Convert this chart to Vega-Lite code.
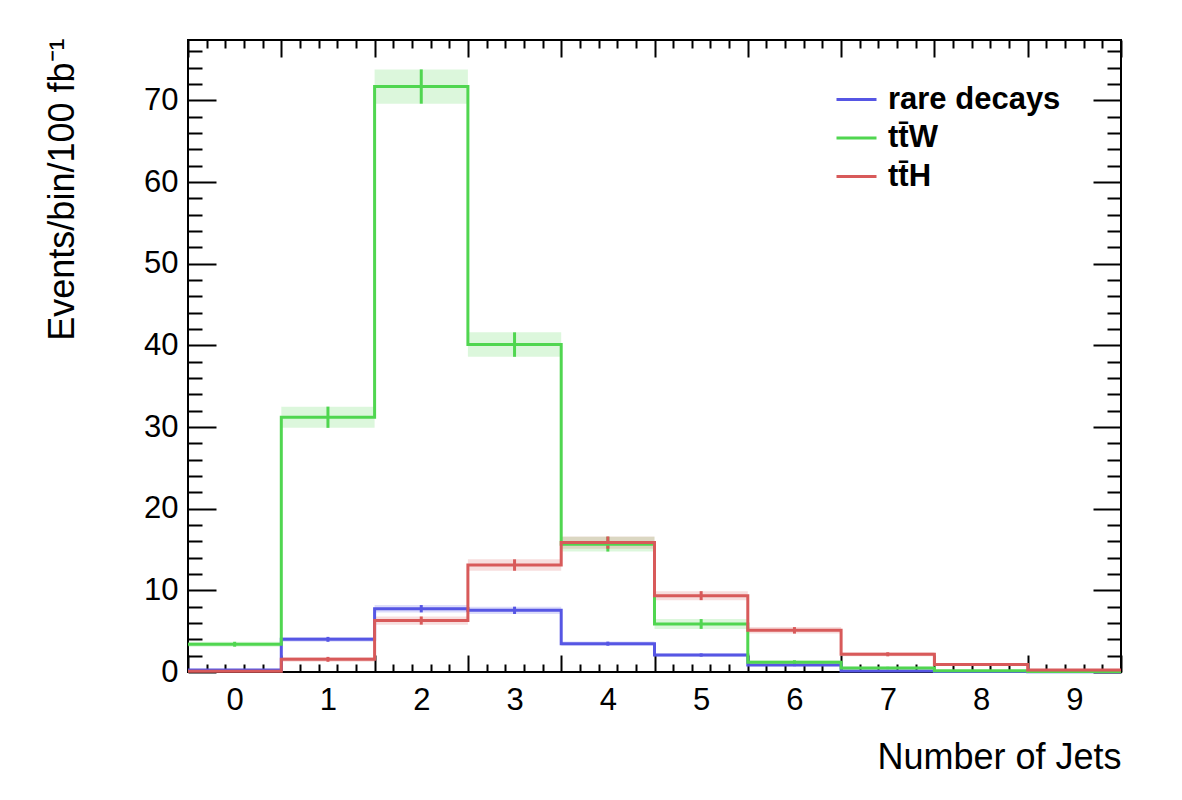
{
  "$schema": "https://vega.github.io/schema/vega-lite/v6.json",
  "width": 933,
  "height": 632,
  "autosize": {"type": "none"},
  "padding": {"left": 188, "top": 40, "right": 61, "bottom": 128},
  "background": "white",
  "config": {
    "font": "Liberation Sans",
    "view": {"stroke": "#000000", "strokeWidth": 2},
    "axis": {"grid": false, "domain": false, "tickColor": "#000000", "tickWidth": 2, "labelColor": "#000000", "titleColor": "#000000", "labelFont": "Liberation Sans", "titleFont": "Liberation Sans", "labelFontSize": 31, "titleFontSize": 36, "titleFontWeight": "normal"},
    "legend": {"labelFont": "Liberation Sans", "labelFontSize": 31, "labelFontWeight": "bold", "labelColor": "#000000", "labelLimit": 400}
  },
  "datasets": {
    "bins": [
      {"proc": "rare decays", "x0": -0.5, "x1": 0.5, "c": 0, "v": 0.25, "vlo": 0.15, "vhi": 0.35},
      {"proc": "rare decays", "x0": 0.5, "x1": 1.5, "c": 1, "v": 4.0, "vlo": 3.7, "vhi": 4.3},
      {"proc": "rare decays", "x0": 1.5, "x1": 2.5, "c": 2, "v": 7.76, "vlo": 7.3, "vhi": 8.2},
      {"proc": "rare decays", "x0": 2.5, "x1": 3.5, "c": 3, "v": 7.55, "vlo": 7.1, "vhi": 8.0},
      {"proc": "rare decays", "x0": 3.5, "x1": 4.5, "c": 4, "v": 3.47, "vlo": 3.22, "vhi": 3.72},
      {"proc": "rare decays", "x0": 4.5, "x1": 5.5, "c": 5, "v": 2.08, "vlo": 1.88, "vhi": 2.28},
      {"proc": "rare decays", "x0": 5.5, "x1": 6.5, "c": 6, "v": 0.86, "vlo": 0.71, "vhi": 1.01},
      {"proc": "rare decays", "x0": 6.5, "x1": 7.5, "c": 7, "v": 0.12, "vlo": 0.07, "vhi": 0.17},
      {"proc": "rare decays", "x0": 7.5, "x1": 8.5, "c": 8, "v": 0.05, "vlo": 0.02, "vhi": 0.08},
      {"proc": "rare decays", "x0": 8.5, "x1": 9.5, "c": 9, "v": 0.02, "vlo": 0.0, "vhi": 0.04},
      {"proc": "tt̄W", "x0": -0.5, "x1": 0.5, "c": 0, "v": 3.4, "vlo": 3.1, "vhi": 3.7},
      {"proc": "tt̄W", "x0": 0.5, "x1": 1.5, "c": 1, "v": 31.2, "vlo": 29.9, "vhi": 32.5},
      {"proc": "tt̄W", "x0": 1.5, "x1": 2.5, "c": 2, "v": 71.7, "vlo": 69.6, "vhi": 73.8},
      {"proc": "tt̄W", "x0": 2.5, "x1": 3.5, "c": 3, "v": 40.1, "vlo": 38.6, "vhi": 41.6},
      {"proc": "tt̄W", "x0": 3.5, "x1": 4.5, "c": 4, "v": 15.65, "vlo": 14.75, "vhi": 16.55},
      {"proc": "tt̄W", "x0": 4.5, "x1": 5.5, "c": 5, "v": 5.88, "vlo": 5.28, "vhi": 6.48},
      {"proc": "tt̄W", "x0": 5.5, "x1": 6.5, "c": 6, "v": 1.19, "vlo": 0.94, "vhi": 1.44},
      {"proc": "tt̄W", "x0": 6.5, "x1": 7.5, "c": 7, "v": 0.49, "vlo": 0.34, "vhi": 0.64},
      {"proc": "tt̄W", "x0": 7.5, "x1": 8.5, "c": 8, "v": 0.16, "vlo": 0.08, "vhi": 0.24},
      {"proc": "tt̄W", "x0": 8.5, "x1": 9.5, "c": 9, "v": 0.05, "vlo": 0.02, "vhi": 0.08},
      {"proc": "tt̄H", "x0": -0.5, "x1": 0.5, "c": 0, "v": 0.1, "vlo": 0.05, "vhi": 0.15},
      {"proc": "tt̄H", "x0": 0.5, "x1": 1.5, "c": 1, "v": 1.55, "vlo": 1.25, "vhi": 1.85},
      {"proc": "tt̄H", "x0": 1.5, "x1": 2.5, "c": 2, "v": 6.3, "vlo": 5.8, "vhi": 6.8},
      {"proc": "tt̄H", "x0": 2.5, "x1": 3.5, "c": 3, "v": 13.1, "vlo": 12.4, "vhi": 13.8},
      {"proc": "tt̄H", "x0": 3.5, "x1": 4.5, "c": 4, "v": 15.85, "vlo": 15.1, "vhi": 16.6},
      {"proc": "tt̄H", "x0": 4.5, "x1": 5.5, "c": 5, "v": 9.35, "vlo": 8.8, "vhi": 9.9},
      {"proc": "tt̄H", "x0": 5.5, "x1": 6.5, "c": 6, "v": 5.1, "vlo": 4.7, "vhi": 5.5},
      {"proc": "tt̄H", "x0": 6.5, "x1": 7.5, "c": 7, "v": 2.17, "vlo": 1.92, "vhi": 2.42},
      {"proc": "tt̄H", "x0": 7.5, "x1": 8.5, "c": 8, "v": 0.92, "vlo": 0.77, "vhi": 1.07},
      {"proc": "tt̄H", "x0": 8.5, "x1": 9.5, "c": 9, "v": 0.25, "vlo": 0.17, "vhi": 0.33}
    ],
    "steps": [
      {"proc": "rare decays", "edge": -0.5, "v": 0.25},
      {"proc": "rare decays", "edge": 0.5, "v": 4.0},
      {"proc": "rare decays", "edge": 1.5, "v": 7.76},
      {"proc": "rare decays", "edge": 2.5, "v": 7.55},
      {"proc": "rare decays", "edge": 3.5, "v": 3.47},
      {"proc": "rare decays", "edge": 4.5, "v": 2.08},
      {"proc": "rare decays", "edge": 5.5, "v": 0.86},
      {"proc": "rare decays", "edge": 6.5, "v": 0.12},
      {"proc": "rare decays", "edge": 7.5, "v": 0.05},
      {"proc": "rare decays", "edge": 8.5, "v": 0.02},
      {"proc": "rare decays", "edge": 9.5, "v": 0.02},
      {"proc": "tt̄W", "edge": -0.5, "v": 3.4},
      {"proc": "tt̄W", "edge": 0.5, "v": 31.2},
      {"proc": "tt̄W", "edge": 1.5, "v": 71.7},
      {"proc": "tt̄W", "edge": 2.5, "v": 40.1},
      {"proc": "tt̄W", "edge": 3.5, "v": 15.65},
      {"proc": "tt̄W", "edge": 4.5, "v": 5.88},
      {"proc": "tt̄W", "edge": 5.5, "v": 1.19},
      {"proc": "tt̄W", "edge": 6.5, "v": 0.49},
      {"proc": "tt̄W", "edge": 7.5, "v": 0.16},
      {"proc": "tt̄W", "edge": 8.5, "v": 0.05},
      {"proc": "tt̄W", "edge": 9.5, "v": 0.05},
      {"proc": "tt̄H", "edge": -0.5, "v": 0.1},
      {"proc": "tt̄H", "edge": 0.5, "v": 1.55},
      {"proc": "tt̄H", "edge": 1.5, "v": 6.3},
      {"proc": "tt̄H", "edge": 2.5, "v": 13.1},
      {"proc": "tt̄H", "edge": 3.5, "v": 15.85},
      {"proc": "tt̄H", "edge": 4.5, "v": 9.35},
      {"proc": "tt̄H", "edge": 5.5, "v": 5.1},
      {"proc": "tt̄H", "edge": 6.5, "v": 2.17},
      {"proc": "tt̄H", "edge": 7.5, "v": 0.92},
      {"proc": "tt̄H", "edge": 8.5, "v": 0.25},
      {"proc": "tt̄H", "edge": 9.5, "v": 0.25}
    ]
  },
  "resolve": {"axis": {"x": "independent", "y": "independent"}},
  "layer": [
    {
      "data": {"name": "bins"},
      "mark": {"type": "rect", "fillOpacity": 0.2},
      "encoding": {
        "x": {"field": "x0", "type": "quantitative", "scale": {"domain": [-0.5, 9.5], "nice": false, "zero": false},
              "axis": {"orient": "bottom", "values": [0, 1, 2, 3, 4, 5, 6, 7, 8, 9], "ticks": false, "labelPadding": 13, "title": "Number of Jets", "titleAnchor": "end", "titleBaseline": "alphabetic", "titleY": 96}},
        "x2": {"field": "x1"},
        "y": {"field": "vlo", "type": "quantitative", "scale": {"domain": [0, 77.4], "nice": false, "zero": true},
              "axis": {"orient": "left", "values": [0, 10, 20, 30, 40, 50, 60, 70], "ticks": false, "labelPadding": 10, "title": "Events/bin/100 fb⁻¹", "titleAnchor": "end", "titleAngle": -90, "titleBaseline": "alphabetic", "titleX": -115, "titleY": -2}},
        "y2": {"field": "vhi"},
        "color": {"field": "proc", "type": "nominal", "scale": {"domain": ["rare decays", "tt̄W", "tt̄H"], "range": ["#5656e4", "#50d650", "#d85a5a"]}}
      }
    },
    {
      "data": {"name": "bins"},
      "mark": {"type": "rule", "strokeWidth": 3},
      "encoding": {
        "x": {"field": "c", "type": "quantitative", "scale": {"domain": [-0.5, 9.5], "nice": false, "zero": false},
              "axis": {"orient": "bottom", "values": [-0.5, 0.5, 1.5, 2.5, 3.5, 4.5, 5.5, 6.5, 7.5, 8.5, 9.5], "labels": false, "tickSize": -17, "title": null}},
        "y": {"field": "vlo", "type": "quantitative", "scale": {"domain": [0, 77.4], "nice": false, "zero": true},
              "axis": {"orient": "left", "values": [0, 10, 20, 30, 40, 50, 60, 70], "labels": false, "tickSize": -28, "title": null}},
        "y2": {"field": "vhi"},
        "color": {"field": "proc", "type": "nominal", "scale": {"domain": ["rare decays", "tt̄W", "tt̄H"], "range": ["#5656e4", "#50d650", "#d85a5a"]}}
      }
    },
    {
      "data": {"name": "steps"},
      "mark": {"type": "line", "interpolate": "step-after", "strokeWidth": 3},
      "encoding": {
        "x": {"field": "edge", "type": "quantitative", "scale": {"domain": [-0.5, 9.5], "nice": false, "zero": false},
              "axis": {"orient": "bottom", "values": [-0.3, -0.1, 0.1, 0.3, 0.7, 0.9, 1.1, 1.3, 1.7, 1.9, 2.1, 2.3, 2.7, 2.9, 3.1, 3.3, 3.7, 3.9, 4.1, 4.3, 4.7, 4.9, 5.1, 5.3, 5.7, 5.9, 6.1, 6.3, 6.7, 6.9, 7.1, 7.3, 7.7, 7.9, 8.1, 8.3, 8.7, 8.9, 9.1, 9.3], "labels": false, "tickSize": -8, "title": null}},
        "y": {"field": "v", "type": "quantitative", "scale": {"domain": [0, 77.4], "nice": false, "zero": true},
              "axis": {"orient": "left", "values": [2, 4, 6, 8, 12, 14, 16, 18, 22, 24, 26, 28, 32, 34, 36, 38, 42, 44, 46, 48, 52, 54, 56, 58, 62, 64, 66, 68, 72, 74, 76], "labels": false, "tickSize": -14, "title": null}},
        "color": {"field": "proc", "type": "nominal", "scale": {"domain": ["rare decays", "tt̄W", "tt̄H"], "range": ["#5656e4", "#50d650", "#d85a5a"]},
                  "legend": {"title": null, "orient": "none", "legendX": 647, "legendY": 38, "symbolType": "stroke", "symbolSize": 1600, "symbolStrokeWidth": 3, "symbolOpacity": 1, "rowPadding": 1.5, "labelOffset": 10, "padding": 0}}
      }
    },
    {
      "data": {"name": "bins"},
      "mark": {"type": "point", "opacity": 0},
      "encoding": {
        "x": {"field": "c", "type": "quantitative", "scale": {"domain": [-0.5, 9.5], "nice": false, "zero": false},
              "axis": {"orient": "top", "values": [-0.5, 0.5, 1.5, 2.5, 3.5, 4.5, 5.5, 6.5, 7.5, 8.5, 9.5], "labels": false, "tickSize": -17, "title": null}},
        "y": {"field": "v", "type": "quantitative", "scale": {"domain": [0, 77.4], "nice": false, "zero": true},
              "axis": {"orient": "right", "values": [0, 10, 20, 30, 40, 50, 60, 70], "labels": false, "tickSize": -28, "title": null}}
      }
    },
    {
      "data": {"name": "bins"},
      "mark": {"type": "point", "opacity": 0},
      "encoding": {
        "x": {"field": "c", "type": "quantitative", "scale": {"domain": [-0.5, 9.5], "nice": false, "zero": false},
              "axis": {"orient": "top", "values": [-0.3, -0.1, 0.1, 0.3, 0.7, 0.9, 1.1, 1.3, 1.7, 1.9, 2.1, 2.3, 2.7, 2.9, 3.1, 3.3, 3.7, 3.9, 4.1, 4.3, 4.7, 4.9, 5.1, 5.3, 5.7, 5.9, 6.1, 6.3, 6.7, 6.9, 7.1, 7.3, 7.7, 7.9, 8.1, 8.3, 8.7, 8.9, 9.1, 9.3], "labels": false, "tickSize": -8, "title": null}},
        "y": {"field": "v", "type": "quantitative", "scale": {"domain": [0, 77.4], "nice": false, "zero": true},
              "axis": {"orient": "right", "values": [2, 4, 6, 8, 12, 14, 16, 18, 22, 24, 26, 28, 32, 34, 36, 38, 42, 44, 46, 48, 52, 54, 56, 58, 62, 64, 66, 68, 72, 74, 76], "labels": false, "tickSize": -14, "title": null}}
      }
    }
  ]
}
